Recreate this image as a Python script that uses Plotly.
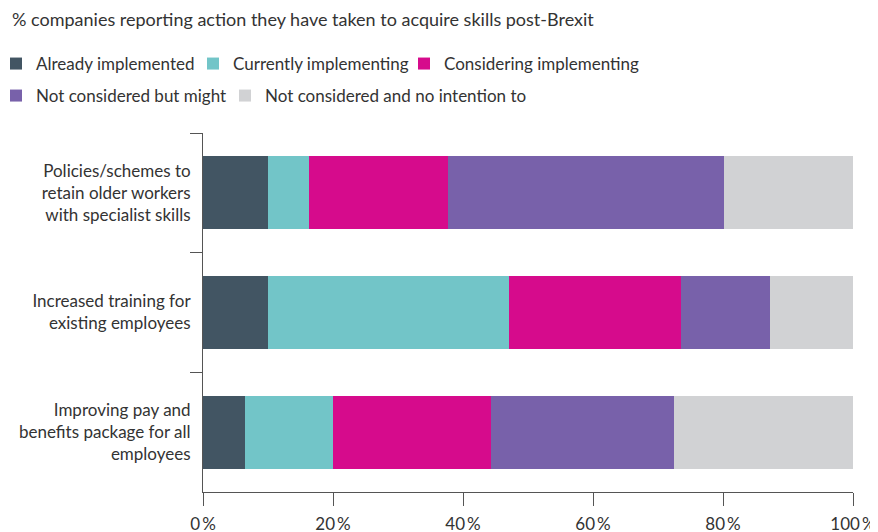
import plotly.graph_objects as go

categories = [
    "Policies/schemes to<br>retain older workers<br>with specialist skills",
    "Increased training for<br>existing employees",
    "Improving pay and<br>benefits package for all<br>employees",
]
series_names = [
    "Already implemented",
    "Currently implementing",
    "Considering implementing",
    "Not considered but might",
    "Not considered and no intention to",
]
already = [10.0, 10.0, 6.4]
currently = [6.3, 37.1, 13.6]
considering = [21.4, 26.4, 24.3]
might = [42.4, 13.7, 28.2]
no_intention = [19.9, 12.8, 27.5]
tick_vals = [0, 20, 40, 60, 80, 100]
tick_text = ["0\u2009%", "20\u2009%", "40\u2009%", "60\u2009%", "80\u2009%", "100\u2009%"]

values = [already, currently, considering, might, no_intention]
colors = ["#425563", "#72C5C8", "#D60B8C", "#7861AA", "#D1D2D4"]
legend_ids = ["legend", "legend2", "legend3", "legend4", "legend5"]

# figure is drawn 8px inside the page (browser body margin)
W, H = 870, 524
ML, MR, MT, MB = 195, 25, 125, 40
PW, PH = W - ML - MR, H - MT - MB

# legend placement in figure pixels
legend_px_x = [-12, 185, 396, -12, 217]
legend_px_y = [56, 56, 56, 88, 88]

FONT = "Lato"
TXT = "#333333"

fig = go.Figure()
for name, vals, col, lg in zip(series_names, values, colors, legend_ids):
    fig.add_trace(go.Bar(
        y=categories, x=vals, name=name, orientation="h",
        marker=dict(color=col, line=dict(width=0)),
        legend=lg, hoverinfo="x+name", showlegend=True,
    ))

legend_layout = {}
for lg, px, py in zip(legend_ids, legend_px_x, legend_px_y):
    legend_layout[lg] = dict(
        orientation="h", xref="paper", yref="paper",
        x=(px - ML) / PW, xanchor="left",
        y=(H - MB - py) / PH, yanchor="middle",
        font=dict(family=FONT, size=17, color=TXT),
        itemwidth=30, bgcolor="rgba(0,0,0,0)",
    )

fig.update_layout(
    width=W, height=H, showlegend=True,
    barmode="stack", bargap=0.39,
    plot_bgcolor="white", paper_bgcolor="white",
    margin=dict(l=ML, r=MR, t=MT, b=MB, autoexpand=False),
    font=dict(family=FONT, size=17, color=TXT),
    title=dict(
        text="% companies reporting action they have taken to acquire skills post-Brexit",
        xref="container", yref="container", x=4 / W, xanchor="left",
        y=1 - 12 / H, yanchor="middle",
        font=dict(family=FONT, size=18, color=TXT),
    ),
    xaxis=dict(
        range=[0, 100], tickvals=tick_vals, ticktext=tick_text,
        showgrid=False, zeroline=False, automargin=False,
        showline=True, linecolor="#555555", linewidth=1,
        ticks="outside", ticklen=13, tickcolor="#555555", tickwidth=1,
        tickfont=dict(family=FONT, size=17, color=TXT),
        ticklabelstandoff=4, fixedrange=True,
    ),
    yaxis=dict(
        autorange="reversed", showgrid=False, zeroline=False, automargin=False,
        showline=True, linecolor="#555555", linewidth=1,
        ticks="outside", tickson="boundaries", ticklen=12,
        tickcolor="#555555", tickwidth=1,
        tickfont=dict(family=FONT, size=17, color=TXT),
        ticklabelstandoff=8, fixedrange=True,
    ),
    **legend_layout,
)

fig.write_html("out.html")
